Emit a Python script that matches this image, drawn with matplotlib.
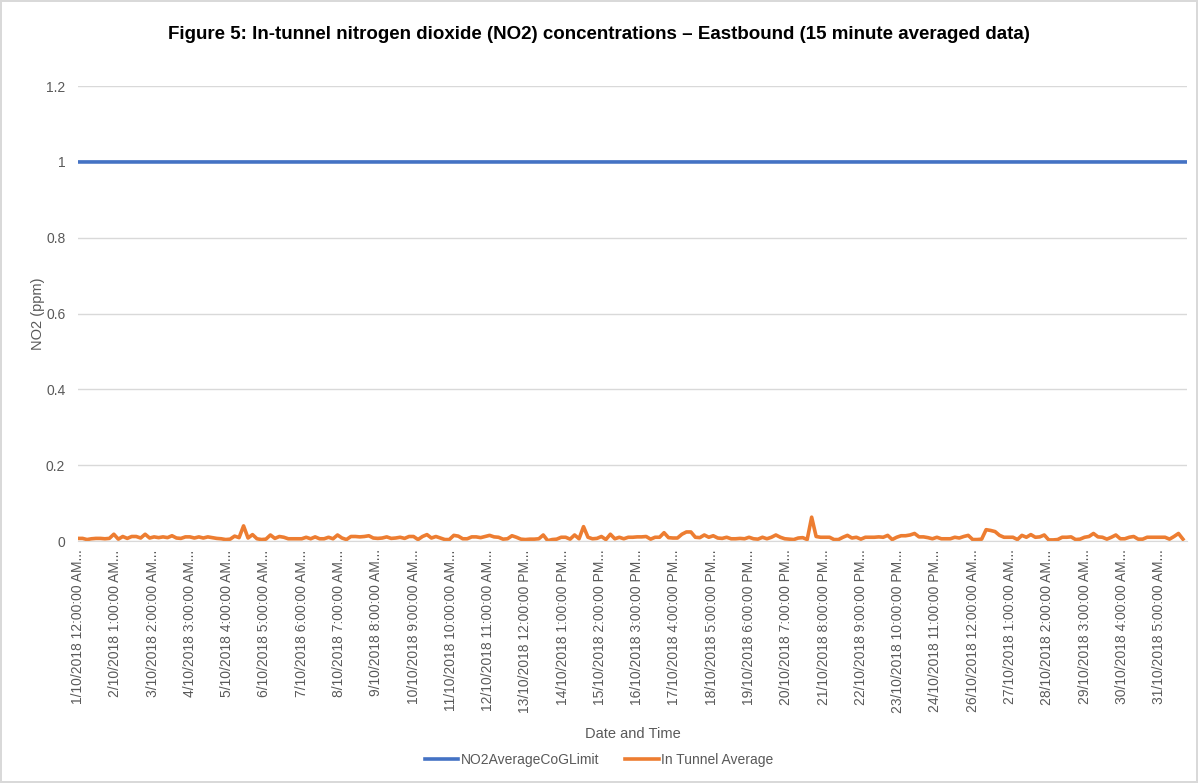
import numpy as np
import matplotlib
matplotlib.use("Agg")
import matplotlib.pyplot as plt

plt.rcParams['font.family'] = ['Liberation Sans', 'DejaVu Sans']

# 15 minute data for October 2018 (96 readings a day)
n_points = 31 * 96
limit = 1.0  # NO2 average CoG limit, ppm

step = 12
in_tunnel = [
    0.007, 0.007, 0.004, 0.006, 0.007, 0.007, 0.006, 0.007, 0.018, 0.005,
    0.012, 0.007, 0.012, 0.012, 0.008, 0.018, 0.008, 0.011, 0.009, 0.011,
    0.009, 0.014, 0.008, 0.007, 0.011, 0.011, 0.008, 0.011, 0.008, 0.011,
    0.009, 0.007, 0.006, 0.004, 0.005, 0.013, 0.009, 0.040, 0.008, 0.017,
    0.006, 0.004, 0.005, 0.016, 0.007, 0.012, 0.010, 0.006, 0.006, 0.006,
    0.006, 0.010, 0.006, 0.011, 0.006, 0.006, 0.010, 0.006, 0.016, 0.008,
    0.004, 0.012, 0.012, 0.011, 0.012, 0.014, 0.008, 0.007, 0.008, 0.011,
    0.007, 0.008, 0.010, 0.007, 0.012, 0.012, 0.004, 0.012, 0.017, 0.008,
    0.012, 0.008, 0.004, 0.004, 0.015, 0.013, 0.006, 0.006, 0.011, 0.011,
    0.009, 0.012, 0.015, 0.011, 0.010, 0.005, 0.006, 0.014, 0.010, 0.005,
    0.004, 0.005, 0.005, 0.006, 0.016, 0.001, 0.004, 0.005, 0.010, 0.010,
    0.005, 0.016, 0.006, 0.038, 0.010, 0.006, 0.007, 0.012, 0.004, 0.018,
    0.006, 0.010, 0.006, 0.010, 0.010, 0.011, 0.011, 0.012, 0.005, 0.010,
    0.010, 0.022, 0.009, 0.008, 0.008, 0.018, 0.024, 0.024, 0.010, 0.009,
    0.016, 0.010, 0.014, 0.008, 0.007, 0.010, 0.006, 0.006, 0.007, 0.006,
    0.010, 0.006, 0.005, 0.010, 0.006, 0.010, 0.016, 0.010, 0.006, 0.005,
    0.004, 0.008, 0.009, 0.004, 0.063, 0.012, 0.010, 0.010, 0.010, 0.004,
    0.004, 0.010, 0.015, 0.008, 0.010, 0.005, 0.010, 0.010, 0.010, 0.011,
    0.010, 0.015, 0.004, 0.010, 0.014, 0.014, 0.016, 0.020, 0.011, 0.011,
    0.009, 0.006, 0.010, 0.006, 0.006, 0.006, 0.010, 0.008, 0.012, 0.015,
    0.004, 0.004, 0.005, 0.030, 0.028, 0.025, 0.015, 0.010, 0.010, 0.010,
    0.004, 0.015, 0.010, 0.017, 0.010, 0.011, 0.016, 0.003, 0.003, 0.004,
    0.010, 0.010, 0.011, 0.004, 0.005, 0.010, 0.012, 0.020, 0.011, 0.010,
    0.005, 0.010, 0.016, 0.006, 0.006, 0.010, 0.012, 0.005, 0.005, 0.010,
    0.010, 0.010, 0.010, 0.010, 0.005, 0.012, 0.020, 0.005,
]

# category labels shown every 100 readings
tick_every = 100
tick_labels = [
    "1/10/2018 12:00:00 AM...", "2/10/2018 1:00:00 AM...", "3/10/2018 2:00:00 AM...",
    "4/10/2018 3:00:00 AM...", "5/10/2018 4:00:00 AM...", "6/10/2018 5:00:00 AM...",
    "7/10/2018 6:00:00 AM...", "8/10/2018 7:00:00 AM...", "9/10/2018 8:00:00 AM...",
    "10/10/2018 9:00:00 AM...", "11/10/2018 10:00:00 AM...", "12/10/2018 11:00:00 AM...",
    "13/10/2018 12:00:00 PM...", "14/10/2018 1:00:00 PM...", "15/10/2018 2:00:00 PM...",
    "16/10/2018 3:00:00 PM...", "17/10/2018 4:00:00 PM...", "18/10/2018 5:00:00 PM...",
    "19/10/2018 6:00:00 PM...", "20/10/2018 7:00:00 PM...", "21/10/2018 8:00:00 PM...",
    "22/10/2018 9:00:00 PM...", "23/10/2018 10:00:00 PM...", "24/10/2018 11:00:00 PM...",
    "26/10/2018 12:00:00 AM...", "27/10/2018 1:00:00 AM...", "28/10/2018 2:00:00 AM...",
    "29/10/2018 3:00:00 AM...", "30/10/2018 4:00:00 AM...", "31/10/2018 5:00:00 AM...",
]

idx = np.arange(n_points)
tunnel_idx = np.arange(len(in_tunnel)) * step

fig = plt.figure(figsize=(11.98, 7.83), dpi=100)
fig.patch.set_edgecolor('#d9d9d9')
fig.patch.set_linewidth(1.5)
ax = fig.add_axes([0.065, 0.309, 0.926, 0.581])

ax.plot(idx, np.full(n_points, limit), color='#4472C4', lw=2.6, label='NO2AverageCoGLimit')
ax.plot(tunnel_idx, in_tunnel, color='#ED7D31', lw=2.6, label='In Tunnel Average')

ax.set_xlim(-0.5, n_points - 0.5)
ax.set_ylim(0, 1.2)
ax.set_yticks(np.arange(0, 1.21, 0.2))
ax.set_yticklabels(['0', '0.2', '0.4', '0.6', '0.8', '1', '1.2'])
ax.set_xticks(np.arange(len(tick_labels)) * tick_every)
ax.set_xticklabels(tick_labels, rotation=90)
ax.tick_params(axis='both', length=0, colors='#595959', labelsize=10)
ax.tick_params(axis='y', pad=9)
ax.tick_params(axis='x', pad=6)
ax.grid(axis='y', color='#d9d9d9', lw=1)
ax.set_axisbelow(True)
for s in ['top', 'right', 'left']:
    ax.spines[s].set_visible(False)
ax.spines['bottom'].set_color('#d9d9d9')

ax.set_ylabel('NO2 (ppm)', fontsize=10.5, color='#595959', labelpad=1)
ax.set_xlabel('Date and Time', fontsize=10.5, color='#595959', labelpad=10)
fig.suptitle('Figure 5: In-tunnel nitrogen dioxide (NO2) concentrations \u2013 Eastbound (15 minute averaged data)',
             x=0.5, y=0.967, fontsize=13.5, fontweight='bold', color='black')

fig.legend(loc='center', bbox_to_anchor=(0.5, 0.03), ncol=2, frameon=False,
           fontsize=10, labelcolor='#595959', handlelength=2.4, handletextpad=0.15,
           columnspacing=1.9)

fig.savefig('out.png', dpi=100)
